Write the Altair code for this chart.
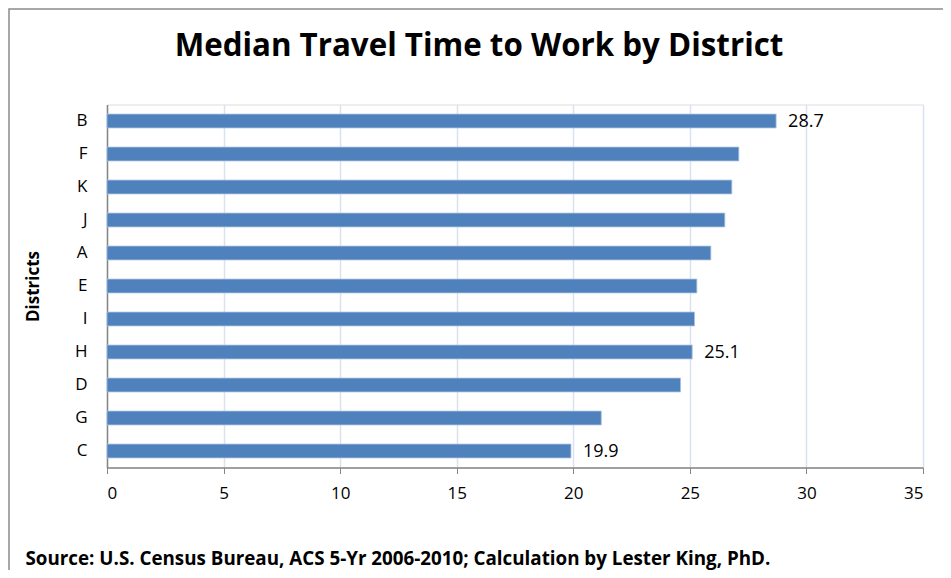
import altair as alt
import pandas as pd

districts = ["B", "F", "K", "J", "A", "E", "I", "H", "D", "G", "C"]
minutes = [28.7, 27.1, 26.8, 26.5, 25.9, 25.3, 25.2, 25.1, 24.6, 21.2, 19.9]
shown_labels = ["28.7", "", "", "", "", "", "", "25.1", "", "", "19.9"]
x_ticks = [0, 5, 10, 15, 20, 25, 30, 35]

title_text = "Median Travel Time to Work by District"
source_text = "Source: U.S. Census Bureau, ACS 5-Yr 2006-2010; Calculation by Lester King, PhD."

df = pd.DataFrame({"District": districts, "Minutes": minutes, "Label": shown_labels})

FONT = "Open Sans"

y_enc = alt.Y(
    "District:N",
    sort=districts,
    scale=alt.Scale(paddingInner=0.58, paddingOuter=0.29),
    axis=alt.Axis(
        title="Districts",
        titleFont=FONT,
        titleFontSize=17,
        titleFontWeight="bold",
        titleColor="#000000",
        titlePadding=32,
        labelFont=FONT,
        labelFontSize=17,
        labelColor="#000000",
        labelPadding=20,
        ticks=False,
        domainColor="#868686",
        domainWidth=1.5,
        grid=False,
    ),
)

x_enc = alt.X(
    "Minutes:Q",
    scale=alt.Scale(domain=[0, 35], nice=False),
    axis=alt.Axis(
        values=x_ticks,
        title=source_text,
        titleFont=FONT,
        titleFontSize=18.8,
        titleFontWeight="bold",
        titleColor="#000000",
        titleX=-82,
        titleY=97,
        titleAlign="left",
        titleBaseline="alphabetic",
        titleAnchor="start",
        labelFont=FONT,
        labelFontSize=17,
        labelColor="#000000",
        labelPadding=12,
        tickSize=6,
        tickColor="#868686",
        domainColor="#868686",
        domainWidth=1.5,
        grid=True,
        gridColor="#d9e2f0",
        gridWidth=1.5,
    ),
)

bars = alt.Chart(df).mark_bar(color="#4F81BD", stroke="#a9c2e0", strokeWidth=0.8).encode(
    x=x_enc, y=y_enc
)

labels = alt.Chart(df).mark_text(
    align="left", baseline="middle", dx=12, dy=1, font=FONT, fontSize=18, color="#000000"
).encode(x="Minutes:Q", y=alt.Y("District:N", sort=districts), text="Label:N")

frame = alt.Chart(pd.DataFrame({"k": [0]})).mark_rect(
    fillOpacity=0, stroke="#8c8c8c", strokeWidth=1.5
).encode(
    x=alt.value(-98), x2=alt.value(880), y=alt.value(-95.5), y2=alt.value(520)
)

chart = (
    alt.layer(frame, bars, labels)
    .properties(
        width=816,
        height=363,
        title=alt.TitleParams(
            text=title_text,
            font=FONT,
            fontSize=31.3,
            fontWeight="bold",
            color="#000000",
            anchor="middle",
            frame="group",
            dx=-36,
            dy=98,
            offset=44,
        ),
        padding={"left": 99, "top": 96.5, "right": 20, "bottom": 102},
        autosize=alt.AutoSizeParams(type="none"),
    )
    .configure_view(stroke=None)
    .configure(background="white")
)

chart.save("out.html", embed_options={"renderer": "svg", "actions": False})
